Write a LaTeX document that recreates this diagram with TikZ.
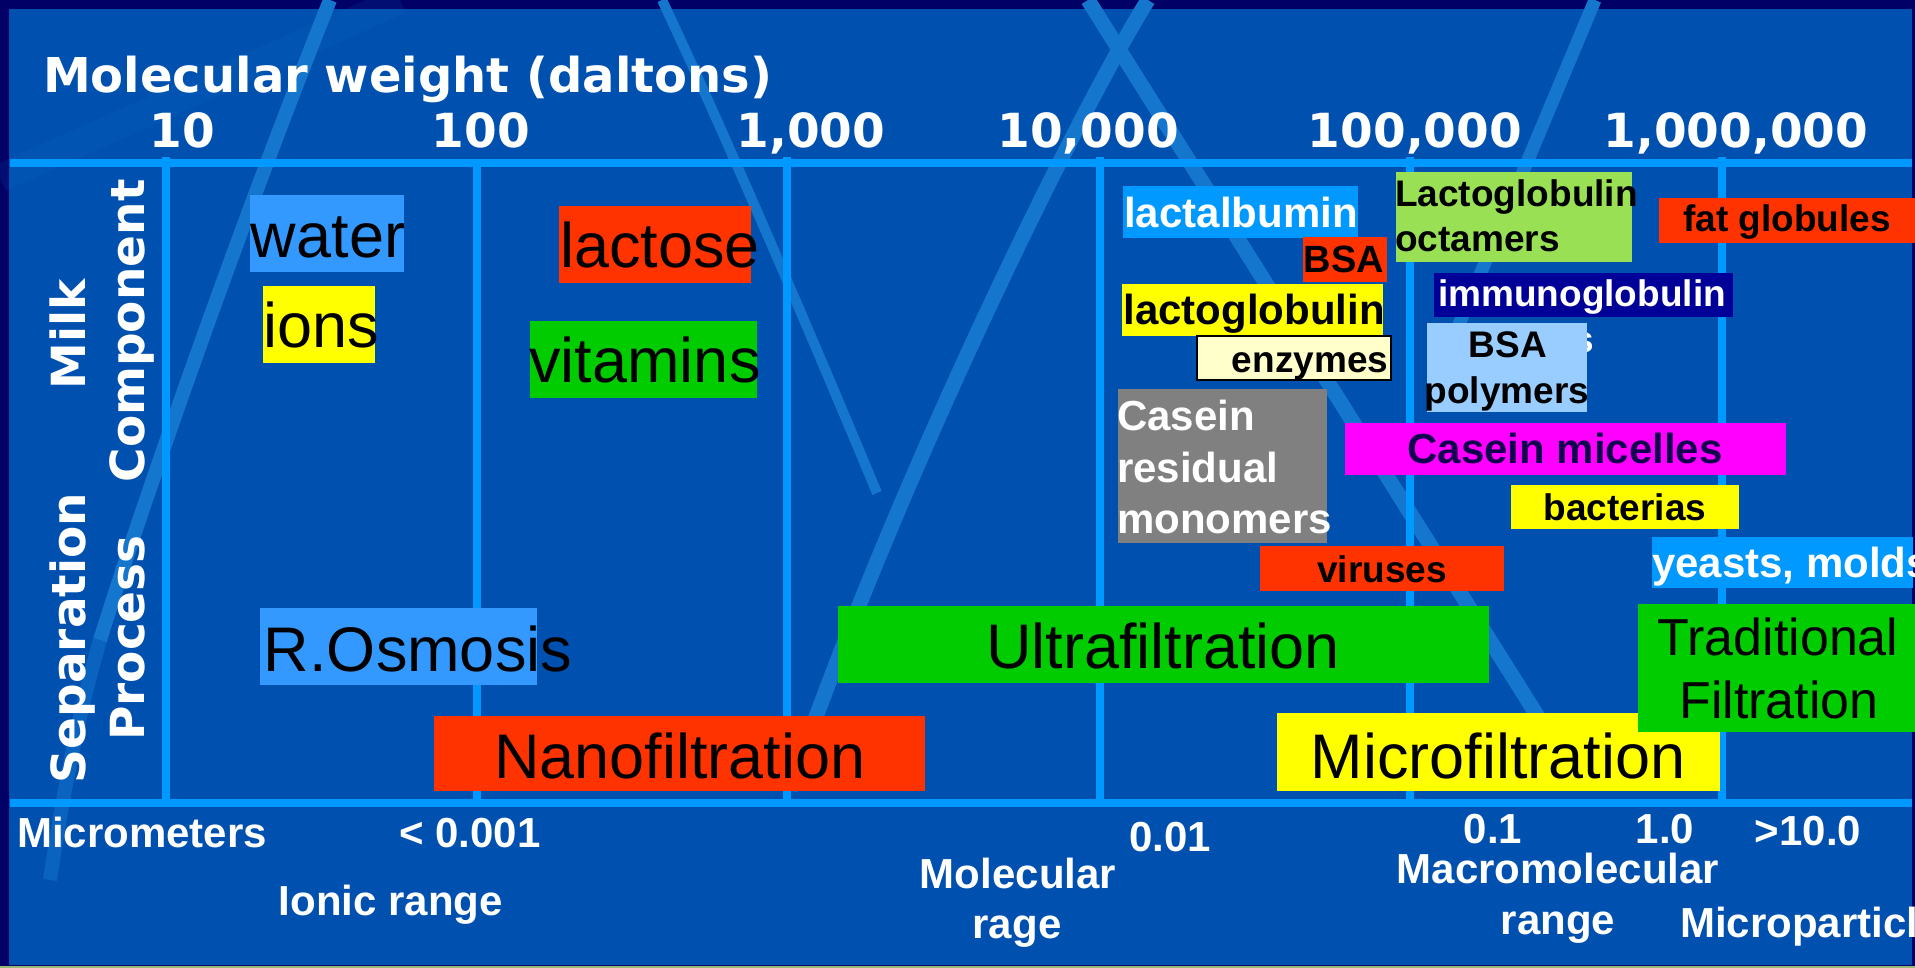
\documentclass[tikz,border=0pt]{standalone}
\usepackage{fontspec}
\setmainfont{Liberation Sans}
\newfontfamily\dvs{DejaVu Sans}
\usetikzlibrary{fit}
\definecolor{navy}{RGB}{0,0,102}
\definecolor{panel}{RGB}{0,80,176}
\definecolor{gridc}{RGB}{0,153,255}
\definecolor{stripec}{RGB}{20,118,205}
\definecolor{lblueA}{RGB}{51,153,255}
\definecolor{lblueB}{RGB}{0,153,255}
\definecolor{redc}{RGB}{255,51,0}
\definecolor{yelc}{RGB}{255,255,0}
\definecolor{grnc}{RGB}{0,204,0}
\definecolor{lgrn}{RGB}{153,224,85}
\definecolor{paleyel}{RGB}{255,255,204}
\definecolor{grayc}{RGB}{128,128,128}
\definecolor{dnavy}{RGB}{0,0,153}
\definecolor{paleblue}{RGB}{153,204,255}
\definecolor{magc}{RGB}{255,0,255}
\definecolor{inkc}{RGB}{20,0,80}
\definecolor{stripbot}{RGB}{150,185,120}
\begin{document}
\begin{tikzpicture}[x=1pt,y=-1pt,
  bx/.style={inner sep=0pt, outer sep=0pt},
  stripe/.style={draw=stripec, line width=15pt},
  gridline/.style={draw=gridc, line width=7.5pt},
  dvlab/.style={font=\dvs\bfseries\fontsize{47}{56}\selectfont, text=white, inner sep=0pt},
  big/.style={font=\fontsize{63}{75}\selectfont, text=black, inner sep=0pt, anchor=base},
  bigB/.style={font=\fontsize{52}{62}\selectfont, text=black, inner sep=0pt, anchor=base},
  bA/.style={font=\fontsize{42}{50}\selectfont\bfseries, inner sep=0pt, anchor=base},
  bB/.style={font=\fontsize{37}{44}\selectfont\bfseries, inner sep=0pt, anchor=base},
  btm/.style={font=\fontsize{42}{50}\selectfont\bfseries, text=white, inner sep=0pt, anchor=base}
]
\useasboundingbox (0,0) rectangle (1915,968);
% background
\fill[navy] (0,0) rectangle (1915,968);
\fill[panel] (9,9) rectangle (1912,965);
\fill[stripbot] (0,966) rectangle (1915,968);
% decorative stripes
\draw[draw=stripec, line width=28pt, opacity=0.12] (400,0) -- (0,178);
\draw[stripe, line width=14pt] (330,0) .. controls (250,200) and (150,480) .. (100,640);
\draw[stripe, line width=14pt, opacity=0.5] (100,640) .. controls (80,710) and (65,780) .. (50,880);
\draw[stripe, line width=10pt] (662,0) .. controls (700,80) and (780,260) .. (877,493);
\draw[stripe] (1088,0) -- (1540,720);
\draw[stripe] (1148,0) .. controls (1085,100) and (900,470) .. (790,790);
\draw[stripe, line width=13pt] (1595,0) -- (1440,370);
% grid
\draw[gridline] (10,163) -- (1912,163);
\draw[gridline] (10,803) -- (1912,803);
\coordinate (v1t) at (166,157); \coordinate (v1b) at (166,807);
\coordinate (v2t) at (477,167); \coordinate (v2b) at (477,807);
\coordinate (v3t) at (787,157); \coordinate (v3b) at (787,807);
\coordinate (v4t) at (1100,157); \coordinate (v4b) at (1100,807);
\coordinate (v5t) at (1410,157); \coordinate (v5b) at (1410,807);
\coordinate (v6t) at (1722,157); \coordinate (v6b) at (1722,807);
\draw[gridline, line width=8.5pt] (v1t) -- (v1b);
\draw[gridline] (v2t) -- (v2b);
\draw[gridline] (v3t) -- (v3b);
\draw[gridline] (v4t) -- (v4b);
\draw[gridline] (v5t) -- (v5b);
\draw[gridline] (v6t) -- (v6b);
% headings
\node[dvlab, anchor=base west, font=\dvs\bfseries\fontsize{48}{56}\selectfont] (mw) at (43,93) {Molecular weight (daltons)};
\node[dvlab, anchor=base] (n10) at (182,148) {10};
\node[dvlab, anchor=base] (n100) at (481,148) {100};
\node[dvlab, anchor=base] (n1k) at (811,148) {1,000};
\node[dvlab, anchor=base] (n10k) at (1088,148) {10,000};
\node[dvlab, anchor=base] (n100k) at (1415,148) {100,000};
\node[dvlab, anchor=base] (n1m) at (1736,148) {1,000,000};
\node[dvlab, anchor=base, rotate=90] (milk) at (85,334) {Milk};
\node[dvlab, anchor=base, rotate=90] (comp) at (144,331) {Component};
\node[dvlab, anchor=base, rotate=90] (sep) at (85,638) {Separation};
\node[dvlab, anchor=base, rotate=90] (proc) at (144,638) {Process};
% left components
\node[bx, fill=lblueA, fit={(250,195) (404,272)}] (waterbox) {};
\node[big] (water) at (328,258) {water};
\node[bx, fill=yelc, fit={(263,286) (375,363)}] (ionsbox) {};
\node[big] (ions) at (321,348) {ions};
\node[bx, fill=redc, fit={(559,206) (751,283)}] (lactosebox) {};
\node[big] (lactose) at (660,268) {lactose};
\node[bx, fill=grnc, fit={(530,321) (757,398)}] (vitbox) {};
\node[big] (vit) at (645,382) {vitamins};
% separation processes
\node[bx, fill=lblueA, fit={(260,608) (537,685)}] (robox) {};
\node[big] (ro) at (418,671) {R.Osmosis};
\node[bx, fill=redc, fit={(434,716) (925,791)}] (nanobox) {};
\node[big] (nano) at (680,778) {Nanofiltration};
\node[bx, fill=grnc, fit={(838,606) (1489,683)}] (ultrabox) {};
\node[big] (ultra) at (1163,668) {Ultrafiltration};
\node[bx, fill=yelc, fit={(1277,713) (1720,791)}] (microbox) {};
\node[big] (micro) at (1498,778) {Microfiltration};
\node[bx, fill=grnc, fit={(1638,604) (1915,732)}] (tradbox) {};
\node[bigB] (trad1) at (1778,655) {Traditional};
\node[bigB] (trad2) at (1779,718) {Filtration};
% right components
\node[bx, fill=lblueB, fit={(1123,186) (1358,238)}] (lacalbbox) {};
\node[bA, text=white] (lacalb) at (1241,228) {lactalbumin};
\node[bx, fill=redc, fit={(1303,237) (1387,282)}] (bsabox) {};
\node[bB, text=black, font=\fontsize{38}{45}\selectfont\bfseries] (bsa) at (1344,273) {BSA};
\node[bx, fill=yelc, fit={(1122,284) (1383,336)}] (lacglobox) {};
\node[bA, text=black!90!navy] (lacglo) at (1254,325) {lactoglobulin};
\node[bx, fill=paleyel, draw=black, line width=1.5pt, fit={(1197,336) (1391,380)}] (enzbox) {};
\node[bB, text=black] (enz) at (1310,373) {enzymes};
\node[bx, fill=grayc, fit={(1118,389) (1327,543)}] (casresbox) {};
\node[bA, text=white, anchor=base west] (casres1) at (1117,430) {Casein};
\node[bA, text=white, anchor=base west] (casres2) at (1117,482) {residual};
\node[bA, text=white, anchor=base west] (casres3) at (1117,533) {monomers};
\node[bx, fill=lgrn, fit={(1396,172) (1632,262)}] (octbox) {};
\node[bB, text=black, anchor=base west] (oct1) at (1395,207) {Lactoglobulin};
\node[bB, text=black, anchor=base west] (oct2) at (1395,252) {octamers};
\node[bx, fill=redc, fit={(1659,198) (1915,243)}] (fatbox) {};
\node[bB, text=black] (fat) at (1787,232) {fat globules};
\node[bx, fill=dnavy, fit={(1434,273) (1733,317)}] (immbox) {};
\node[bB, text=white] (imm) at (1582,307) {immunoglobulin};
\node[bB, text=white, anchor=base east] (hid) at (1594,353) {s};
\node[bx, fill=paleblue, fit={(1427,323) (1587,412)}] (bsapbox) {};
\node[bB, text=black] (bsap1) at (1508,358) {BSA};
\node[bB, text=black] (bsap2) at (1507,403) {polymers};
\node[bx, fill=magc, fit={(1345,423) (1786,475)}] (micbox) {};
\node[bA, text=inkc] (mic) at (1565,463) {Casein micelles};
\node[bx, fill=yelc, fit={(1511,485) (1739,529)}] (bacbox) {};
\node[bB, text=black] (bac) at (1625,520) {bacterias};
\node[bx, fill=redc, fit={(1260,546) (1504,591)}] (virbox) {};
\node[bB, text=black] (vir) at (1382,582) {viruses};
\node[bx, fill=lblueB, fit={(1652,537) (1913,588)}] (yeastbox) {};
\node[bA, text=white, anchor=base west] (yeast) at (1652,577) {yeasts, molds};
% bottom scale
\node[btm] (um) at (142,847) {Micrometers};
\node[btm] (lt) at (470,847) {< 0.001};
\node[btm] (ionic) at (391,915) {Ionic range};
\node[btm] (molr1) at (1018,888) {Molecular};
\node[btm] (molr2) at (1017,938) {rage};
\node[btm] (p01) at (1170,851) {0.01};
\node[btm] (p1) at (1493,843) {0.1};
\node[btm] (p10) at (1665,843) {1.0};
\node[btm] (gt) at (1808,845) {>10.0};
\node[btm] (macro1) at (1558,883) {Macromolecular};
\node[btm] (macro2) at (1558,934) {range};
\node[btm, anchor=base west] (microp) at (1680,937) {Microparticles};
\end{tikzpicture}
\end{document}
